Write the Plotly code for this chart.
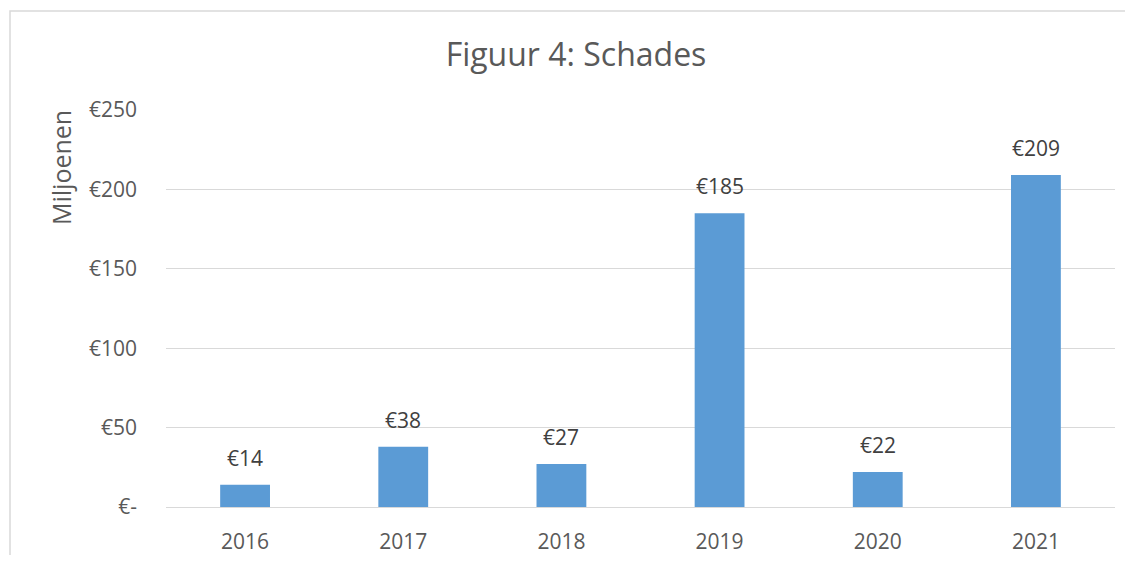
import plotly.graph_objects as go

years = ["2016", "2017", "2018", "2019", "2020", "2021"]
schades = [14, 38, 27, 185, 22, 209]
label_texts = ["€14", "€38", "€27", "€185", "€22", "€209"]
y_tickvals = [0, 50, 100, 150, 200, 250]
y_ticktext = ["€-", "€50", "€100", "€150", "€200", "€250"]

# page has an 8px body margin; work in screen coords then convert
OFF = 8
W, H = 1133 - 2 * OFF, 563 - 2 * OFF
PL, PR, PT, PB = 166, 1115, 110, 507          # plot area in screen px
L, R, T, B = PL - OFF, W - (PR - OFF), PT - OFF, H - (PB - OFF)
pw, ph = PR - PL, PB - PT

FONT = "Open Sans"
fig = go.Figure()
fig.add_trace(go.Bar(
    x=years, y=schades, width=0.315,
    marker=dict(color="#5B9BD5", line=dict(width=0)),
    hoverinfo="x+y",
))

for i, (yv, t) in enumerate(zip(schades, label_texts)):
    fig.add_annotation(x=i, y=yv, xref="x", yref="y", text=t, showarrow=False, yanchor="bottom",
                       yshift=11, font=dict(family=FONT, size=21, color="#404040"))

fig.add_annotation(xref="paper", yref="paper",
                   x=(61 - PL) / pw, y=(PB - 168) / ph, text="Miljoenen",
                   textangle=-90, showarrow=False, xanchor="center", yanchor="middle",
                   font=dict(family=FONT, size=25, color="#595959"))

# chart border
fig.add_shape(type="rect", xref="paper", yref="paper",
              x0=(10 - PL) / pw, x1=(1145 - PL) / pw,
              y0=(PB - 575) / ph, y1=(PB - 11) / ph,
              line=dict(color="#D9D9D9", width=1.5), fillcolor="rgba(0,0,0,0)", layer="below")

fig.update_layout(
    width=W, height=H,
    margin=dict(l=L, r=R, t=T, b=B, autoexpand=False),
    paper_bgcolor="white", plot_bgcolor="white",
    showlegend=False,
    title=dict(text="Figuur 4: Schades", x=(576 - OFF) / W, xref="container", xanchor="center",
               y=1 - (55 - OFF) / H, yref="container", yanchor="middle",
               font=dict(family=FONT, size=32, color="#595959")),
)
fig.update_xaxes(type="category", range=[-0.5, len(years) - 0.5],
                 showgrid=False, showline=False, ticks="", ticklabelstandoff=20,
                 tickfont=dict(family=FONT, size=21, color="#595959"), fixedrange=True)
fig.update_yaxes(range=[0, 250], tickvals=y_tickvals, ticktext=y_ticktext,
                 showgrid=True, gridcolor="#D9D9D9", gridwidth=1.3,
                 zeroline=True, zerolinecolor="#D9D9D9", zerolinewidth=1.3,
                 showline=False, ticks="", ticklabelstandoff=28,
                 tickfont=dict(family=FONT, size=21, color="#595959"), fixedrange=True)

fig.write_html("out.html")
